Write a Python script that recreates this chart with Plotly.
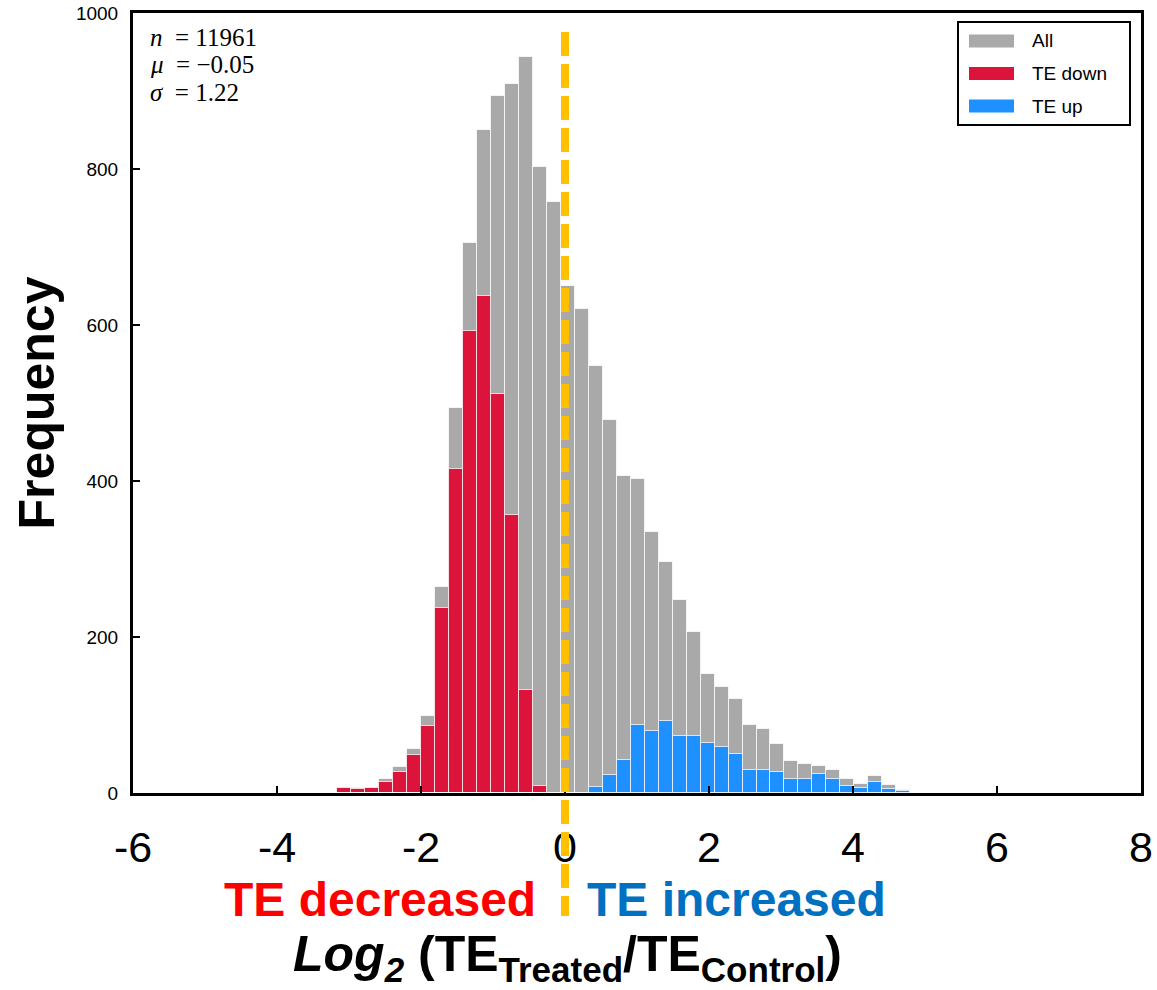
import plotly.graph_objects as go

# Histogram of log2(TE treated / TE control), counts per bin
BIN_START = -3.16
BIN_WIDTH = 0.194
ALL_COUNTS = [6, 7, 6, 18, 33, 56, 99, 264, 494, 705,
              850, 894, 909, 944, 803, 758, 650, 620, 547, 478,
              406, 403, 335, 296, 247, 207, 153, 136, 121, 87,
              82, 63, 41, 37, 35, 30, 18, 12, 22, 10,
              4]
DOWN_COUNTS = [6, 5, 6, 14, 27, 49, 86, 237, 415, 592,
               637, 512, 356, 132, 9, 0, 0, 0, 0, 0,
               0, 0, 0, 0, 0, 0, 0, 0, 0, 0,
               0, 0, 0, 0, 0, 0, 0, 0, 0, 0,
               0]
UP_COUNTS = [0, 0, 0, 0, 0, 0, 0, 0, 0, 0,
             0, 0, 0, 0, 0, 0, 0, 0, 8, 23,
             42, 87, 79, 92, 73, 73, 64, 59, 50, 29,
             30, 27, 18, 18, 25, 18, 9, 7, 14, 5,
             3]
SERIES_NAMES = ["All", "TE down", "TE up"]
STATS = [("n", "11961"), ("μ", "−0.05"), ("σ", "1.22")]
X_TICKS = [-6, -4, -2, 0, 2, 4, 6, 8]
Y_TICKS = [0, 200, 400, 600, 800, 1000]

centers = [BIN_START + BIN_WIDTH * (i + 0.5) for i in range(len(ALL_COUNTS))]

GRAY = "#A9A9A9"
RED = "#DC143C"
BLUE = "#1E90FF"
COLORS = [GRAY, RED, BLUE]
EDGE = dict(color="rgba(255,255,255,0.75)", width=1)

# plot-area geometry in pixels (used to place paper-referenced items)
L, R, T, B = 133, 1141, 13, 793
W, H = R - L, B - T


def px(x):
    return (x - L) / W


def py(y):
    return (B - y) / H


fig = go.Figure()
for name, counts, color in zip(SERIES_NAMES, [ALL_COUNTS, DOWN_COUNTS, UP_COUNTS], COLORS):
    fig.add_trace(go.Bar(x=centers, y=counts, width=BIN_WIDTH,
                         marker=dict(color=color, line=EDGE),
                         name=name, showlegend=False))

# threshold line at zero, running down between the two captions
fig.add_shape(type="line", xref="x", yref="paper", x0=0, x1=0,
              y0=py(32), y1=py(916), layer="above",
              line=dict(color="#FFC000", width=8, dash="24px,8px"))

# legend box with wide swatches
fig.add_shape(type="rect", xref="paper", yref="paper",
              x0=px(958), x1=px(1130), y0=py(22), y1=py(125),
              line=dict(color="black", width=2), fillcolor="white", layer="above")
for i, (name, color) in enumerate(zip(SERIES_NAMES, COLORS)):
    yc = 41 + i * 32.5
    fig.add_shape(type="rect", xref="paper", yref="paper",
                  x0=px(969), x1=px(1014), y0=py(yc - 6.5), y1=py(yc + 6.5),
                  line=dict(width=0), fillcolor=color, layer="above")
    fig.add_annotation(xref="paper", yref="paper", x=px(1030), y=py(yc),
                       xanchor="left", yanchor="middle", showarrow=False,
                       text=name, font=dict(size=19, color="black"))

for i, (sym, val) in enumerate(STATS):
    fig.add_annotation(xref="paper", yref="paper", x=px(148), y=py(37 + i * 28),
                       xanchor="left", yanchor="middle", showarrow=False,
                       text=f"<i>{sym}</i>\u00a0\u00a0=\u00a0{val}",
                       font=dict(family="Liberation Serif, serif", size=25, color="black"))

# captions on either side of the threshold
fig.add_annotation(xref="paper", yref="paper", x=px(380), y=py(899),
                   xanchor="center", yanchor="middle",
                   showarrow=False, text="<b>TE decreased</b>",
                   font=dict(family="Liberation Sans, Arial", size=48, color="#FF0000"))
fig.add_annotation(xref="paper", yref="paper", x=px(736), y=py(899),
                   xanchor="center", yanchor="middle",
                   showarrow=False, text="<b>TE increased</b>",
                   font=dict(family="Liberation Sans, Arial", size=48, color="#0070C0"))

# x-axis title, centred under zero
fig.add_annotation(xref="paper", yref="paper", x=px(567), y=py(958),
                   xanchor="center", yanchor="middle", showarrow=False,
                   text="<b><i>Log<sub>2</sub></i> (TE<sub>Treated</sub>/TE<sub>Control</sub>)</b>",
                   font=dict(family="Liberation Sans, Arial", size=50, color="black"))

fig.update_layout(
    width=1157, height=990,
    margin=dict(l=L, r=1157 - R, t=T, b=990 - B),
    paper_bgcolor="white", plot_bgcolor="white",
    barmode="overlay", bargap=0, showlegend=False,
    font=dict(family="Liberation Sans, Arial", color="black"),
    xaxis=dict(range=[-6, 8], tickvals=X_TICKS, ticktext=[str(v) for v in X_TICKS],
               ticks="inside", ticklen=7, tickwidth=1.5, tickcolor="black",
               showline=True, linecolor="black", linewidth=3, mirror=True,
               showgrid=False, zeroline=False, automargin=False,
               tickfont=dict(size=43), ticklabelstandoff=14),
    yaxis=dict(range=[0, 1000], tickvals=Y_TICKS,
               ticks="inside", ticklen=7, tickwidth=1.5, tickcolor="black",
               showline=True, linecolor="black", linewidth=3, mirror=True,
               showgrid=False, zeroline=False, automargin=False,
               tickfont=dict(size=19), ticklabelstandoff=8,
               title=dict(text="<b>Frequency</b>", font=dict(size=50), standoff=6)),
)

fig.write_html("out.html")
